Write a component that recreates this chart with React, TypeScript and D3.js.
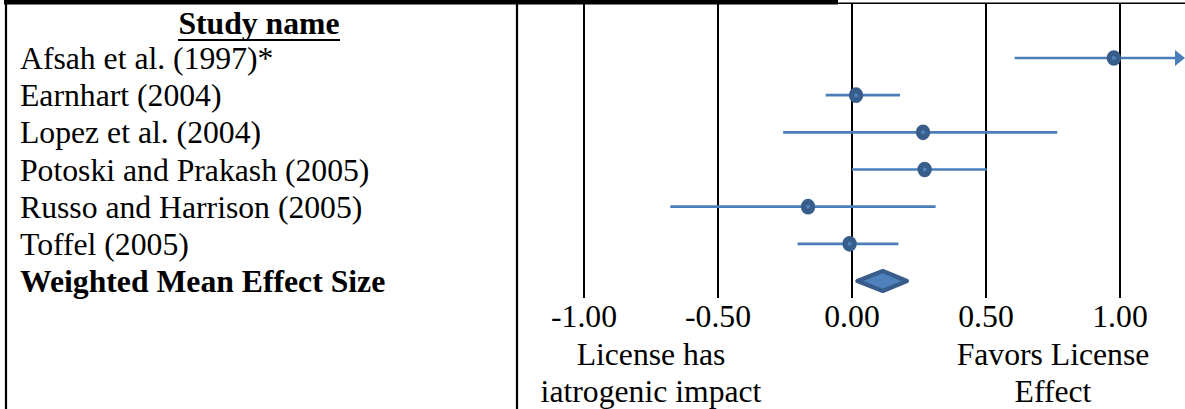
import React from 'react';
import * as d3 from 'd3';

// Studies (effect size with 95% CI)
const studies = [
  'Afsah et al. (1997)*',
  'Earnhart (2004)',
  'Lopez et al. (2004)',
  'Potoski and Prakash (2005)',
  'Russo and Harrison (2005)',
  'Toffel (2005)',
];
const effects = [0.977, 0.015, 0.265, 0.271, -0.164, -0.009];
const lowers = [0.607, -0.098, -0.257, 0.0, -0.678, -0.203];
const uppers = [1.4, 0.179, 0.766, 0.503, 0.312, 0.173];

const summaryLabel = 'Weighted Mean Effect Size';
const summary = { low: 0.02, est: 0.115, high: 0.205 };

const tickValues = [-1, -0.5, 0, 0.5, 1];
const xDomain: [number, number] = [-1.25, 1.25];

const leftNote = ['License has', 'iatrogenic impact'];
const rightNote = ['Favors License', 'Effect'];

const W = 1185;
const H = 409;
const FONT = '"Liberation Serif", "Times New Roman", serif';
const FS = 31.7;

const lineColor = '#4a7ebb';
const dotColor = '#385d8a';
const diamondFill = '#4f81bd';

const fmt = (v: number) => d3.format('.2f')(v).replace('\u2212', '-');

export default function App() {
  const x = d3.scaleLinear().domain(xDomain).range([517, 1187]);
  const rows = [...studies, summaryLabel];
  const y = d3.scalePoint<string>().domain(rows).range([58, 281]);
  const gridBottom = 298;

  const clampX = (v: number) => x(Math.max(xDomain[0], Math.min(xDomain[1], v)));

  const sy = y(summaryLabel) || 0;
  const diamond = d3.line()([
    [x(summary.low), sy],
    [x(summary.est), sy - 10],
    [x(summary.high), sy],
    [x(summary.est), sy + 10],
  ]) + 'Z';

  return (
    <svg
      width={W}
      height={H}
      style={{ position: 'absolute', left: 0, top: 0, background: '#fff' }}
      fontFamily={FONT}
      fontSize={FS}
    >
      {/* frame */}
      <rect x={4} y={0} width={834} height={4.5} fill="#000" />
      <line x1={838} x2={W} y1={3.2} y2={3.2} stroke="#000" strokeWidth={1.6} />
      <line x1={6} x2={6} y1={0} y2={H} stroke="#000" strokeWidth={2.2} />
      <line x1={517} x2={517} y1={0} y2={H} stroke="#000" strokeWidth={2.2} />

      {/* grid lines */}
      {tickValues.map((t) => (
        <line key={t} x1={x(t)} x2={x(t)} y1={4} y2={gridBottom} stroke="#000" strokeWidth={2} />
      ))}

      {/* header */}
      <text x={259} y={34} textAnchor="middle" fontWeight="bold">Study name</text>
      <line x1={178} x2={340} y1={40} y2={40} stroke="#000" strokeWidth={2} />

      {/* labels */}
      {rows.map((r, i) => (
        <text
          key={r}
          x={20}
          y={(y(r) || 0) + 11}
          fontWeight={i === rows.length - 1 ? 'bold' : 'normal'}
        >
          {r}
        </text>
      ))}

      {/* CI lines and points */}
      {studies.map((s, i) => {
        const cy = y(s) || 0;
        const over = uppers[i] > xDomain[1];
        const xe = x(xDomain[1]) - 2;
        return (
          <g key={s}>
            <line
              x1={clampX(lowers[i])}
              x2={over ? xe - 8 : clampX(uppers[i])}
              y1={cy}
              y2={cy}
              stroke={lineColor}
              strokeWidth={2.6}
            />
            {over && (
              <path
                d={`M${xe - 10},${cy - 8}L${xe},${cy}L${xe - 10},${cy + 8}Z`}
                fill={lineColor}
              />
            )}
            <ellipse cx={x(effects[i])} cy={cy} rx={7.2} ry={7.8} fill={dotColor} />
            <circle cx={x(effects[i])} cy={cy} r={2} fill={diamondFill} />
          </g>
        );
      })}

      {/* summary diamond */}
      <path d={diamond} fill={diamondFill} stroke={dotColor} strokeWidth={4.2} strokeLinejoin="round" />

      {/* tick labels */}
      {tickValues.map((t) => (
        <text key={t} x={x(t)} y={327} textAnchor="middle">
          {fmt(t)}
        </text>
      ))}

      {/* direction notes */}
      {leftNote.map((s, i) => (
        <text key={s} x={x(-0.75)} y={365 + i * 37} textAnchor="middle">{s}</text>
      ))}
      {rightNote.map((s, i) => (
        <text key={s} x={x(0.75)} y={365 + i * 37} textAnchor="middle">{s}</text>
      ))}
    </svg>
  );
}
